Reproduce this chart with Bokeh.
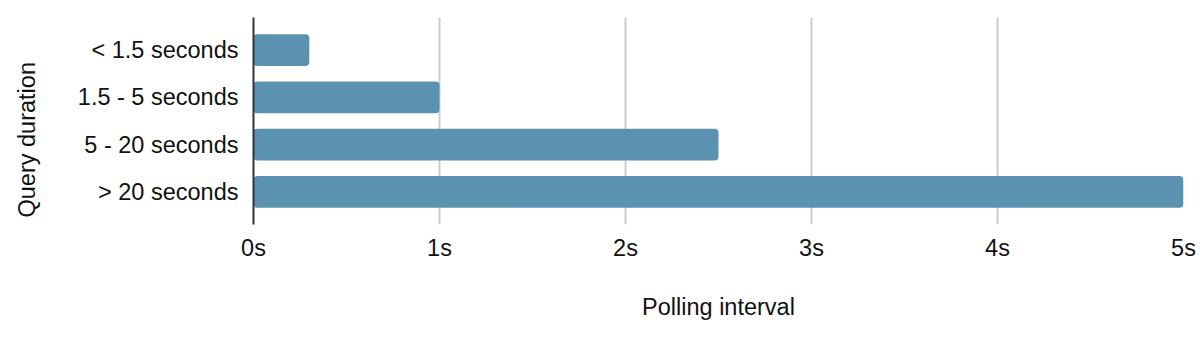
from bokeh.plotting import figure
from bokeh.models import Range1d, FixedTicker, Title
from bokeh.embed import file_html
from bokeh.resources import INLINE

categories = ["< 1.5 seconds", "1.5 - 5 seconds", "5 - 20 seconds", "> 20 seconds"]
polling_seconds = [0.3, 1.0, 2.5, 5.0]
x_ticks = [0, 1, 2, 3, 4, 5]
x_tick_labels = ["0s", "1s", "2s", "3s", "4s", "5s"]
x_title = "Polling interval"
y_title = "Query duration"

positions = list(range(len(categories)))

p = figure(width=1200, height=338, output_backend="svg", toolbar_location=None,
           x_range=Range1d(0, 5), y_range=Range1d(3.69, -0.69),
           min_border_left=253, min_border_right=17, min_border_top=17, min_border_bottom=114)
p.outline_line_color = None
p.background_fill_color = "white"
p.border_fill_color = "white"

p.hbar(y=positions, right=polling_seconds, left=0, height=0.676,
       fill_color="#5a92b0", line_color=None, border_radius=4)

font = "Liberation Sans"
fs = "23.5px"

p.xaxis.ticker = FixedTicker(ticks=x_ticks)
p.xaxis.major_label_overrides = {t: l for t, l in zip(x_ticks, x_tick_labels)}
p.xaxis.axis_line_color = None
p.xaxis.major_tick_line_color = None
p.xaxis.minor_tick_line_color = None
p.xaxis.major_label_standoff = 4
p.xaxis.axis_label = x_title
p.xaxis.axis_label_standoff = 30
p.xaxis.axis_label_text_font_style = "normal"

p.yaxis.ticker = FixedTicker(ticks=positions)
p.yaxis.major_label_overrides = {i: c for i, c in zip(positions, categories)}
p.yaxis.axis_line_color = "#333333"
p.yaxis.axis_line_width = 2
p.yaxis.major_tick_line_color = None
p.yaxis.minor_tick_line_color = None
p.yaxis.major_label_standoff = 9

for ax in (p.xaxis, p.yaxis):
    ax.major_label_text_font = font
    ax.major_label_text_font_size = fs
    ax.major_label_text_color = "#111111"
    ax.axis_label_text_font = font
    ax.axis_label_text_font_size = fs
    ax.axis_label_text_color = "#111111"

spacer = Title(text=" ", standoff=17, text_font_size="1px", text_color="white")
p.add_layout(spacer, "left")

ytitle = Title(text=y_title, align="left", offset=7, vertical_align="top", standoff=26,
               text_font=font, text_font_size=fs, text_font_style="normal",
               text_color="#111111")
p.add_layout(ytitle, "left")

p.xgrid.ticker = FixedTicker(ticks=x_ticks[1:])
p.xgrid.grid_line_color = "#cccccc"
p.xgrid.grid_line_width = 2
p.ygrid.grid_line_color = None

open("out.html", "w").write(file_html(p, INLINE))
